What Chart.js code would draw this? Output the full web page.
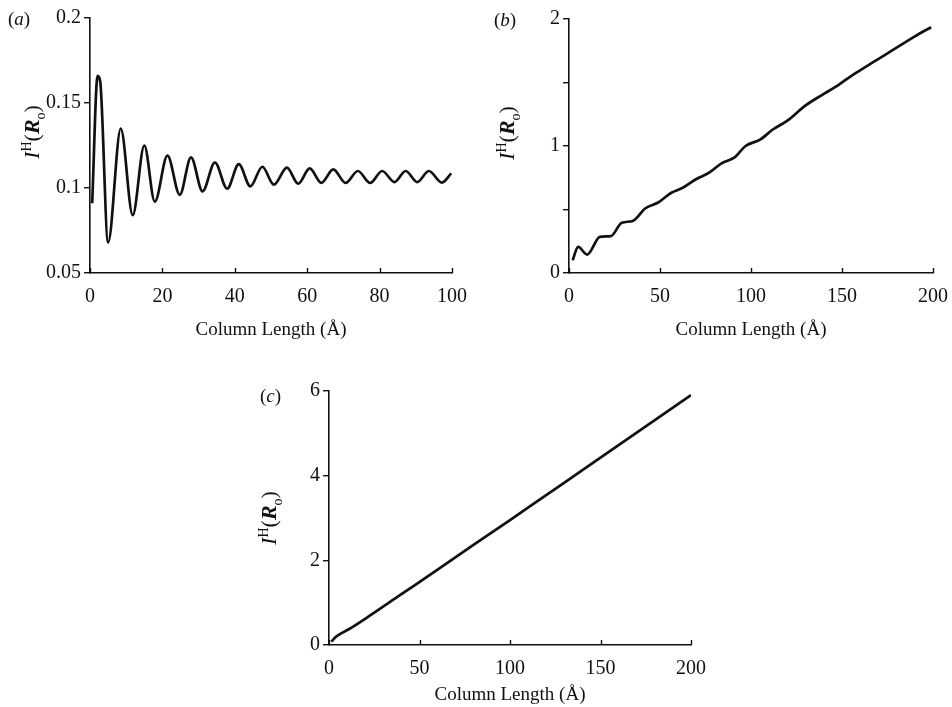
<!DOCTYPE html>
<html><head><meta charset="utf-8">
<script src="https://cdn.jsdelivr.net/npm/chart.js@4.4.0/dist/chart.umd.min.js"></script>
<style>
body{margin:0;background:#fff;width:952px;height:707px;position:relative;overflow:hidden;font-family:'Liberation Serif',serif;color:#111}
canvas{position:absolute}
.lbl{position:absolute;font-size:19px;line-height:1;white-space:nowrap}
.yt{position:absolute;font-size:22px;line-height:1;white-space:nowrap;transform:translate(-50%,-50%) rotate(-90deg)}
.yt sup,.yt sub{font-size:14px}
</style></head><body>
<canvas id="ca" width="476" height="345" style="left:0;top:0"></canvas>
<canvas id="cb" width="476" height="345" style="left:476px;top:0"></canvas>
<canvas id="cc" width="476" height="342" style="left:238px;top:365px"></canvas>
<div class="lbl" style="left:8px;top:9px">(<i>a</i>)</div>
<div class="lbl" style="left:494px;top:10px">(<i>b</i>)</div>
<div class="lbl" style="left:260px;top:386px">(<i>c</i>)</div>
<div class="yt" style="left:34px;top:132px"><i>I</i><sup>H</sup>(<b><i>R</i></b><sub>o</sub>)</div>
<div class="yt" style="left:509px;top:133px"><i>I</i><sup>H</sup>(<b><i>R</i></b><sub>o</sub>)</div>
<div class="yt" style="left:271px;top:518px"><i>I</i><sup>H</sup>(<b><i>R</i></b><sub>o</sub>)</div>
<script>
// ---- data ----
const xTitle = 'Column Length (Å)';
const aX = [0.6, 2.1, 2.8, 5.0, 8.5, 11.8, 15.0, 17.9, 21.4, 24.8, 27.9, 31.1, 34.5, 37.9, 41.1, 44.3, 47.6, 50.8, 54.4, 57.5, 60.7, 63.9, 67.2, 70.6, 74.0, 77.4, 80.7, 84.1, 87.2, 90.4, 93.6, 97.2, 99.8];
const aY = [0.091, 0.166, 0.163, 0.068, 0.135, 0.084, 0.125, 0.092, 0.119, 0.096, 0.118, 0.098, 0.115, 0.0996, 0.114, 0.101, 0.1125, 0.102, 0.112, 0.1025, 0.1115, 0.103, 0.111, 0.103, 0.110, 0.103, 0.110, 0.1035, 0.110, 0.1035, 0.110, 0.1032, 0.1086];
const bX = [2, 5, 10, 17, 23, 29, 35, 42, 49, 56, 63, 70, 77, 84, 91, 97, 105, 112, 120, 130, 140, 148, 157, 166, 175, 184, 192, 199];
const bY = [0.10, 0.205, 0.145, 0.285, 0.29, 0.395, 0.41, 0.51, 0.555, 0.63, 0.675, 0.74, 0.79, 0.865, 0.91, 1.0, 1.05, 1.13, 1.2, 1.32, 1.41, 1.48, 1.57, 1.65, 1.73, 1.81, 1.88, 1.935];
const cX = [1.3, 4, 7, 12, 20, 40, 60, 80, 100, 120, 140, 160, 180, 200];
const cY = [0.08, 0.2, 0.28, 0.4, 0.62, 1.2, 1.78, 2.37, 2.95, 3.54, 4.13, 4.72, 5.31, 5.9];
const aXTicks = [0, 20, 40, 60, 80, 100];
const aYTicks = [0.05, 0.1, 0.15, 0.2];
const aYLabels = ['0.05', '0.1', '0.15', '0.2'];
const bXTicks = [0, 50, 100, 150, 200];
const bYTicks = [0, 0.5, 1, 1.5, 2];
const bYLabels = ['0', '', '1', '', '2'];
const cXTicks = [0, 50, 100, 150, 200];
const cYTicks = [0, 2, 4, 6];
const cYLabels = ['0', '2', '4', '6'];

const FONT = {family: "'Liberation Serif', serif", size: 20};
const TFONT = {family: "'Liberation Serif', serif", size: 19};
const INK = '#111';
const pts = (xs, ys) => xs.map((x, i) => ({x, y: ys[i]}));

const insideTicks = {
  id: 'insideTicks',
  afterDraw(chart) {
    const s = chart.scales.x, ctx = chart.ctx;
    ctx.save(); ctx.strokeStyle = INK; ctx.lineWidth = 1.4;
    s.ticks.forEach(t => {
      const px = Math.round(s.getPixelForValue(t.value)) + 0.5;
      ctx.beginPath(); ctx.moveTo(px, s.top); ctx.lineTo(px, s.top - 5); ctx.stroke();
    });
    ctx.restore();
  }
};

function make(id, data, o) {
  new Chart(document.getElementById(id), {
    type: 'line',
    data: {datasets: [{data, borderColor: INK, borderWidth: 2.7, pointRadius: 0, cubicInterpolationMode: 'monotone', fill: false}]},
    options: {
      responsive: false, animation: false, events: [],
      layout: {padding: o.pad},
      plugins: {legend: {display: false}, tooltip: {enabled: false}},
      scales: {
        x: {
          type: 'linear', min: o.xTicks[0], max: o.xTicks[o.xTicks.length - 1],
          afterFit(s) { s.height = o.xh; },
          afterBuildTicks(s) { s.ticks = o.xTicks.map(v => ({value: v})); },
          border: {color: INK, width: 1.6},
          grid: {display: false},
          ticks: {font: FONT, color: INK, padding: 4, maxRotation: 0, autoSkip: false, callback: v => String(v)},
          title: {display: true, text: xTitle, font: TFONT, color: INK, padding: {top: 0, bottom: o.tpb}}
        },
        y: {
          type: 'linear', min: o.yTicks[0], max: o.yTicks[o.yTicks.length - 1],
          afterFit(s) { s.width = o.yw; },
          afterBuildTicks(s) { s.ticks = o.yTicks.map(v => ({value: v})); },
          border: {color: INK, width: 1.6},
          grid: {display: true, drawOnChartArea: false, drawTicks: true, tickLength: 6, color: INK, lineWidth: 1.4},
          ticks: {font: FONT, color: INK, padding: 3, autoSkip: false,
            callback: (v) => { const i = o.yTicks.indexOf(v); return i >= 0 ? o.yLabels[i] : ''; }}
        }
      }
    },
    plugins: [insideTicks]
  });
}

make('ca', pts(aX, aY), {pad: {left: 0, top: 18, right: 24, bottom: 0}, yw: 90, xh: 72, tpb: 3.6, xTicks: aXTicks, yTicks: aYTicks, yLabels: aYLabels});
make('cb', pts(bX, bY), {pad: {left: 0, top: 19, right: 17, bottom: 0}, yw: 93, xh: 72, tpb: 3.6, xTicks: bXTicks, yTicks: bYTicks, yLabels: bYLabels});
make('cc', pts(cX, cY), {pad: {left: 0, top: 26, right: 23, bottom: 0}, yw: 91, xh: 62, tpb: 0.6, xTicks: cXTicks, yTicks: cYTicks, yLabels: cYLabels});
</script>
</body></html>
